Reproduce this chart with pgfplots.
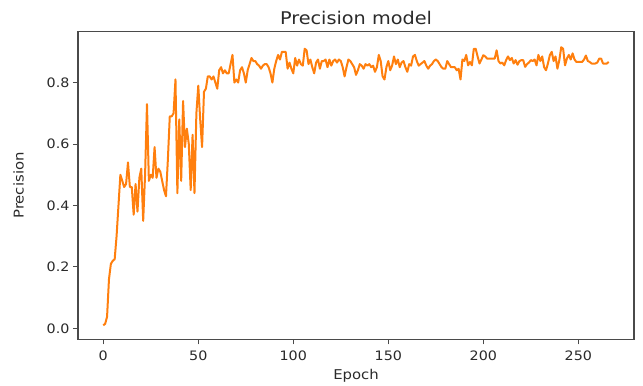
\documentclass[border=0pt]{standalone}
\usepackage{fontspec}
\setmainfont{DejaVu Sans}[FakeStretch=1.1]
\usepackage{pgfplots}
\pgfplotsset{compat=1.18}
\definecolor{mplorange}{HTML}{FF7F0E}
\definecolor{txt}{HTML}{2A2A2A}
\definecolor{spine}{HTML}{4A4A4A}
\begin{document}
\begin{tikzpicture}
\begin{axis}[
  name=ax,
  scale only axis,
  width=556pt, height=307.6pt,
  xmin=-13.3, xmax=279.3,
  ymin=-0.0355, ymax=0.9655,
  xtick={0,50,100,150,200,250},
  ytick={0,0.2,0.4,0.6,0.8},
  yticklabel style={/pgf/number format/fixed,/pgf/number format/fixed zerofill,/pgf/number format/precision=1},
  xticklabel style={yshift=-3pt},
  /pgf/number format/assume math mode=true,
  tick align=outside,
  major tick length=5pt,
  xtick pos=bottom, ytick pos=left,
  tick style={spine, line width=1pt},
  axis line style={spine, line width=1.1pt},
  ticklabel style={font=\fontsize{13}{15}\selectfont, text=txt},
  title={Precision model},
  title style={font=\fontsize{17.5}{20}\selectfont, text=txt, yshift=-3pt},
  xlabel={Epoch},
  ylabel={Precision},
  label style={font=\fontsize{13.5}{16}\selectfont, text=txt},
  xlabel style={yshift=-2pt},
  ylabel style={yshift=16pt},
]
\addplot[mplorange, line width=2pt, line join=round] table {
x y
0 0.01
1 0.015
2 0.038
3 0.16
4 0.21
5 0.22
6 0.225
7 0.30
8 0.40
9 0.50
10 0.48
11 0.46
12 0.47
13 0.54
14 0.46
15 0.46
16 0.37
17 0.47
18 0.38
19 0.49
20 0.52
21 0.35
22 0.50
23 0.73
24 0.48
25 0.50
26 0.49
27 0.59
28 0.49
29 0.52
30 0.51
31 0.48
32 0.45
33 0.43
34 0.55
35 0.69
36 0.69
37 0.70
38 0.81
39 0.44
40 0.68
41 0.48
42 0.74
43 0.59
44 0.65
45 0.60
46 0.45
47 0.63
48 0.44
49 0.70
50 0.79
51 0.68
52 0.59
53 0.77
54 0.78
55 0.82
56 0.82
57 0.81
58 0.82
59 0.80
60 0.78
61 0.84
62 0.85
63 0.83
64 0.84
65 0.83
66 0.83
67 0.86
68 0.89
69 0.80
70 0.81
71 0.80
72 0.84
73 0.85
74 0.83
75 0.80
76 0.84
77 0.86
78 0.88
79 0.87
80 0.87
81 0.86
82 0.855
83 0.845
84 0.855
85 0.86
86 0.86
87 0.85
88 0.83
89 0.80
90 0.845
91 0.87
92 0.89
93 0.875
94 0.90
95 0.90
96 0.90
97 0.845
98 0.865
99 0.845
100 0.83
101 0.88
102 0.855
103 0.875
104 0.86
105 0.855
106 0.91
107 0.905
108 0.86
109 0.875
110 0.85
111 0.83
112 0.865
113 0.875
114 0.845
115 0.87
116 0.87
117 0.875
118 0.85
119 0.875
120 0.855
121 0.87
122 0.875
123 0.865
124 0.875
125 0.87
126 0.85
127 0.82
128 0.85
129 0.875
130 0.87
131 0.86
132 0.85
133 0.825
134 0.84
135 0.86
136 0.855
137 0.845
138 0.86
139 0.855
140 0.86
141 0.85
142 0.855
143 0.835
144 0.85
145 0.89
146 0.87
147 0.82
148 0.81
149 0.85
150 0.87
151 0.84
152 0.855
153 0.885
154 0.86
155 0.875
156 0.85
157 0.865
158 0.87
159 0.85
160 0.835
161 0.86
162 0.855
163 0.885
164 0.89
165 0.87
166 0.855
167 0.86
168 0.865
169 0.87
170 0.855
171 0.845
172 0.855
173 0.86
174 0.87
175 0.875
176 0.87
177 0.86
178 0.85
179 0.845
180 0.845
181 0.87
182 0.86
183 0.85
184 0.85
185 0.85
186 0.84
187 0.845
188 0.81
189 0.875
190 0.87
191 0.89
192 0.856
193 0.867
194 0.856
195 0.91
196 0.91
197 0.885
198 0.862
199 0.875
200 0.889
201 0.885
202 0.878
203 0.878
204 0.878
205 0.878
206 0.878
207 0.905
208 0.87
209 0.862
210 0.865
211 0.856
212 0.873
213 0.885
214 0.873
215 0.88
216 0.862
217 0.873
218 0.858
219 0.87
220 0.873
221 0.873
222 0.851
223 0.86
224 0.865
225 0.873
226 0.87
227 0.875
228 0.856
229 0.89
230 0.87
231 0.885
232 0.85
233 0.84
234 0.862
235 0.889
236 0.90
237 0.87
238 0.885
239 0.845
240 0.873
241 0.915
242 0.91
243 0.856
244 0.878
245 0.89
246 0.875
247 0.895
248 0.875
249 0.867
250 0.867
251 0.867
252 0.867
253 0.875
254 0.888
255 0.87
256 0.867
257 0.862
258 0.862
259 0.862
260 0.865
261 0.878
262 0.878
263 0.862
264 0.862
265 0.862
266 0.867
};
\end{axis}
\pgfresetboundingbox
\path ([shift={(-78pt,-45.7pt)}]ax.south west) rectangle ([shift={(9pt,31.7pt)}]ax.north east);
\end{tikzpicture}
\end{document}
